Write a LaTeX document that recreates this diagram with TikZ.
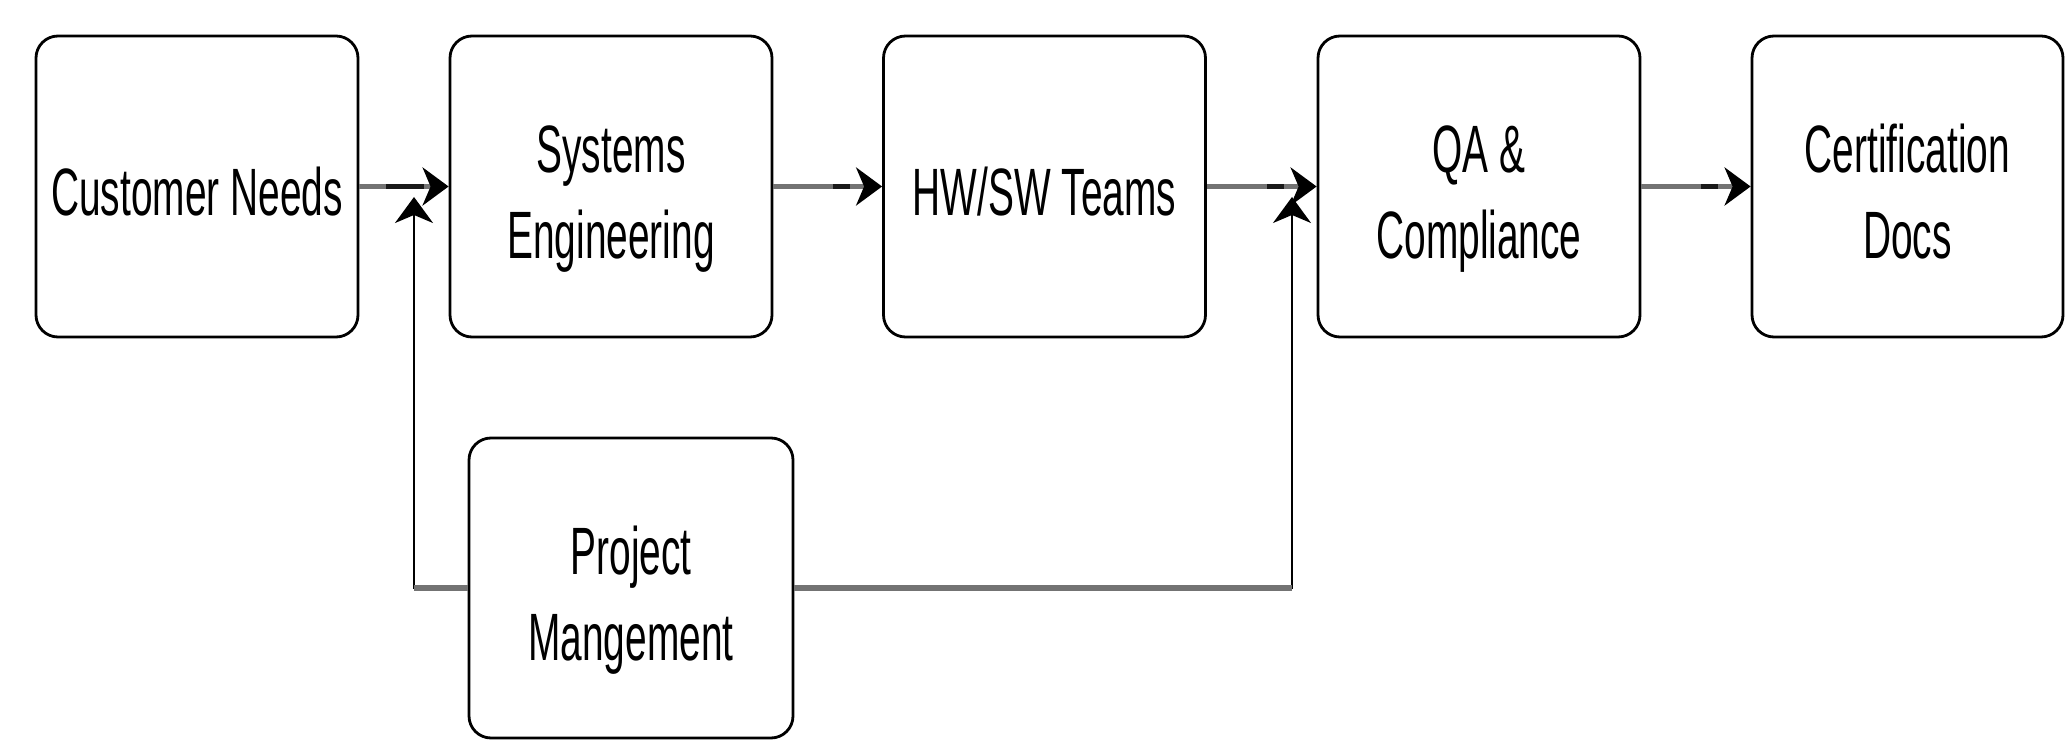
\documentclass[tikz,border=0pt]{standalone}
\usepackage{fontspec}
\setmainfont{Liberation Sans}
\usepackage{graphicx}
\usetikzlibrary{arrows.meta,calc}
\newcommand{\sqtext}[1]{\raisebox{0pt}[\dimexpr\height+12pt\relax][\depth]{\scalebox{0.58}[1]{\begin{tabular}{@{}c@{}}#1\end{tabular}}}}
\begin{document}
\begin{tikzpicture}[x=0.5pt,y=-0.5pt,
  box/.style={draw=black,line width=1.4pt,rounded corners=11pt,fill=white,
    minimum width=161pt,minimum height=150.5pt,inner sep=0pt,
    font=\fontsize{33.5}{43}\selectfont},
  flow/.style={draw=black!55,line width=2.8pt,
    -{Stealth[length=13pt,width=19pt,inset=4pt,black]}},
  darkseg/.style={draw=black!90,line width=2.8pt},
  ctrl/.style={draw=black,line width=1.1pt,
    -{Stealth[length=13pt,width=19pt,inset=4pt,black]}},
  ctrlh/.style={draw=black!55,line width=2.8pt}]
\useasboundingbox (0,0) rectangle (2065,742);
\fill[white] (0,0) rectangle (2065,742);
\node[box] (cn) at (197,186.5) {\sqtext{Customer Needs}};
\node[box] (se) at (611,186.5) {\sqtext{Systems\\Engineering}};
\node[box] (hw) at (1044.5,186.5) {\sqtext{HW/SW Teams}};
\node[box] (qa) at (1479,186.5) {\sqtext{QA \&\\Compliance}};
\node[box,minimum width=155.5pt] (cd) at (1907.5,186.5) {\sqtext{Certification\\Docs}};
\node[box,minimum width=162pt,minimum height=150pt] (pm) at (631,588) {\sqtext{Project\\Mangement}};
% corner points of the control connectors
\coordinate (lc) at (414,588);
\coordinate (lt) at (414,197);
\coordinate (rc) at (1292,588);
\coordinate (rt) at (1292,197);
% main flow
\draw[flow] (cn.east) -- (se.west);
\draw[flow] (se.east) -- (hw.west);
\draw[flow] (hw.east) -- (qa.west);
\draw[flow] (qa.east) -- (cd.west);
\draw[darkseg] ($(cn.east)!0.3!(se.west)$) -- ($(cn.east)!0.72!(se.west)$);
\draw[darkseg] ($(se.east)!0.55!(hw.west)$) -- ($(se.east)!0.7!(hw.west)$);
\draw[darkseg] ($(hw.east)!0.55!(qa.west)$) -- ($(hw.east)!0.7!(qa.west)$);
\draw[darkseg] ($(qa.east)!0.55!(cd.west)$) -- ($(qa.east)!0.7!(cd.west)$);
% project management connectors
\draw[ctrl] (pm.west) -- (lc) -- (lt);
\draw[ctrlh] (pm.west) -- (lc);
\draw[ctrl] (pm.east) -- (rc) -- (rt);
\draw[ctrlh] (pm.east) -- (rc);
\end{tikzpicture}
\end{document}
